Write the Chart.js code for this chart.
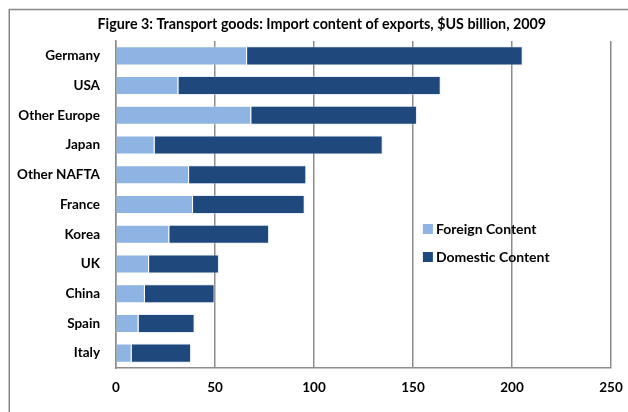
<!DOCTYPE html>
<html>
<head>
<meta charset="utf-8">
<script src="https://cdn.jsdelivr.net/npm/chart.js@4"></script>
<style>
html,body{margin:0;padding:0;background:#fff;}
#wrap{width:628px;height:412px;position:relative;}
</style>
</head>
<body>
<div id="wrap"><canvas id="c" width="628" height="412"></canvas></div>
<script>
const categories = ["Germany","USA","Other Europe","Japan","Other NAFTA","France","Korea","UK","China","Spain","Italy"];
const foreignContent = [66.2, 31.5, 68.3, 19.5, 36.9, 38.9, 26.9, 16.7, 14.6, 11.4, 7.9];
const domesticContent = [139.2, 132.5, 83.7, 115.2, 59.2, 56.4, 50.4, 35.3, 35.2, 28.3, 30.0];
const xTicks = [0, 50, 100, 150, 200, 250];
const seriesLabels = ["Foreign Content", "Domestic Content"];
const titleText = "Figure 3: Transport goods: Import content of exports, $US billion, 2009";

const FONT = "Lato, 'Open Sans', sans-serif";
const GRID = "#8c8c8c";

const framePlugin = {
  id: 'frame',
  beforeDraw(chart) {
    const ctx = chart.ctx;
    ctx.save();
    ctx.fillStyle = '#fff';
    ctx.fillRect(0, 0, chart.width, chart.height);
    ctx.strokeStyle = '#878787';
    ctx.lineWidth = 1.5;
    ctx.strokeRect(9.25, 9.5, 700, 500);
    ctx.fillStyle = '#000';
    ctx.font = "bold 14.3px " + FONT;
    ctx.textAlign = 'center';
    ctx.textBaseline = 'middle';
    ctx.fillText(titleText, 321.8, 24.5);
    ctx.restore();
  }
};

const legendPlugin = {
  id: 'insideLegend',
  afterDraw(chart) {
    const ctx = chart.ctx;
    const xs = chart.scales.x;
    const x0 = xs.getPixelForValue(155);
    const ys = [229, 257];
    ctx.save();
    ctx.font = "bold 14px " + FONT;
    ctx.textBaseline = 'middle';
    ctx.textAlign = 'left';
    chart.data.datasets.forEach((ds, i) => {
      ctx.fillStyle = ds.backgroundColor;
      ctx.fillRect(x0, ys[i] - 5, 10, 10);
      ctx.fillStyle = '#000';
      ctx.fillText(ds.label, x0 + 13, ys[i] + 0.5);
    });
    ctx.restore();
  }
};

new Chart(document.getElementById('c'), {
  type: 'bar',
  data: {
    labels: categories,
    datasets: [
      { label: seriesLabels[0], data: foreignContent, backgroundColor: '#8eb4e3',
        borderColor: 'rgba(255,255,255,0.35)', borderWidth: 1, barPercentage: 0.64, categoryPercentage: 1 },
      { label: seriesLabels[1], data: domesticContent, backgroundColor: '#1f497d',
        borderColor: 'rgba(200,215,235,0.45)', borderWidth: 1, barPercentage: 0.64, categoryPercentage: 1 }
    ]
  },
  options: {
    indexAxis: 'y',
    responsive: false,
    animation: false,
    devicePixelRatio: 1,
    layout: { padding: { left: 10, right: 17, top: 41, bottom: 0 } },
    plugins: {
      legend: { display: false },
      tooltip: { enabled: false },
      title: { display: false }
    },
    scales: {
      x: {
        stacked: true, min: 0, max: 250,
        afterBuildTicks(s) { s.ticks = xTicks.map(v => ({ value: v })); },
        afterFit(s) { s.height = 44; s.paddingRight = 0; s.paddingLeft = 0; },
        grid: { color: GRID, lineWidth: 1.5, drawTicks: false },
        border: { display: true, color: GRID, width: 1.5 },
        ticks: { color: '#000', padding: 12, font: { family: FONT, size: 13.5, weight: 'bold' } }
      },
      y: {
        stacked: true,
        afterFit(s) { s.width = 106; s.paddingTop = 0; s.paddingBottom = 0; },
        grid: { display: false, drawTicks: false },
        border: { display: true, color: GRID, width: 1.5 },
        ticks: { color: '#000', padding: 16, font: { family: FONT, size: 13.5, weight: 'bold' } }
      }
    }
  },
  plugins: [framePlugin, legendPlugin]
});
</script>
</body>
</html>
